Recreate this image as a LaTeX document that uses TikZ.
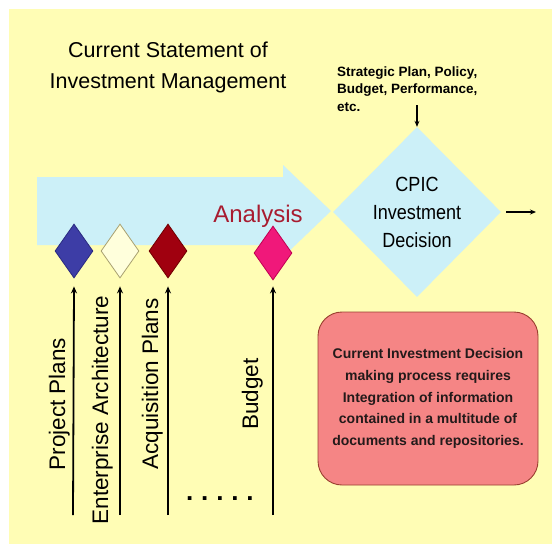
\documentclass[tikz,border=0pt]{standalone}
\usepackage{fontspec}
\setmainfont{Liberation Sans}
\newfontfamily\narrowsf[FakeStretch=0.88]{Liberation Sans}
\usetikzlibrary{shapes.geometric,arrows.meta}

\definecolor{paper}{HTML}{FFFDB5}
\definecolor{flowblue}{HTML}{CCF0F8}
\definecolor{plandia}{HTML}{3D3DA6}
\definecolor{plandiaedge}{HTML}{2A2A80}
\definecolor{archdia}{HTML}{FFFFDC}
\definecolor{archdiaedge}{HTML}{A8A070}
\definecolor{acqdia}{HTML}{A0000F}
\definecolor{acqdiaedge}{HTML}{700000}
\definecolor{budgetdia}{HTML}{F0187A}
\definecolor{budgetdiaedge}{HTML}{C00050}
\definecolor{analysisred}{HTML}{A81C30}
\definecolor{notefill}{HTML}{F58585}
\definecolor{noteedge}{HTML}{9A4030}
\definecolor{notetext}{HTML}{231A1A}

\begin{document}
\begin{tikzpicture}[x=1pt,y=-1pt,
  inputdia/.style={diamond,draw,line width=0.8pt,inner sep=0pt,
    minimum width=38pt,minimum height=54pt},
  inputlabel/.style={rotate=90,anchor=base,inner sep=0pt,
    font=\fontsize{22.5}{26}\selectfont},
  feed/.style={line width=1.8pt,-{Stealth[length=7pt,width=6pt]}},
  thinarrow/.style={line width=1.4pt,-{Stealth[length=6pt,width=5pt]}}]

% page and backdrop
\useasboundingbox (0,0) rectangle (552,544);
\fill[white] (0,0) rectangle (552,544);
\fill[paper] (9,9) rectangle (552,544);

% heading
\node[align=center,font=\fontsize{21.5}{31}\selectfont] (title) at (168,67)
  {Current Statement of\\Investment Management};

% broad analysis arrow
\fill[flowblue] (37,177) -- (283,177) -- (283,165) -- (331,211)
  -- (283,257) -- (283,245) -- (37,245) -- cycle;

\node[anchor=base,text=analysisred,inner sep=0pt,
  font=\fontsize{24}{28}\selectfont] (analysis) at (258,222) {Analysis};

% input diamonds
\node[inputdia,fill=plandia,draw=plandiaedge] (dplan) at (74,251) {};
\node[inputdia,fill=archdia,draw=archdiaedge] (darch) at (120,251) {};
\node[inputdia,fill=acqdia,draw=acqdiaedge] (dacq) at (168,251) {};
\node[inputdia,fill=budgetdia,draw=budgetdiaedge] (dbudget) at (273,253) {};

% input feeds from below
\coordinate (fplan) at (73,515);
\coordinate (farch) at (120,515);
\coordinate (facq) at (168,515);
\coordinate (fbudget) at (273,515);
\draw[feed] (fplan) -- ([yshift=-8pt]dplan.south);
\draw[feed] (farch) -- ([yshift=-8pt]darch.south);
\draw[feed] (facq) -- ([yshift=-8pt]dacq.south);
\draw[feed] (fbudget) -- ([yshift=-6pt]dbudget.south);

\node[inputlabel] (lplan) at (65,404) {Project Plans};
\node[inputlabel] (larch) at (108,410) {Enterprise Architecture};
\node[inputlabel] (lacq) at (158,384) {Acquisition Plans};
\node[inputlabel] (lbudget) at (258,394) {Budget};

\node[anchor=base west,inner sep=0pt,font=\bfseries\fontsize{26}{30}\selectfont]
  (more) at (186,500) {.\kern7.8pt.\kern7.8pt.\kern7.8pt.\kern7.8pt.};

% decision diamond
\node[diamond,fill=flowblue,inner sep=0pt,minimum width=168pt,
  minimum height=170pt,align=center,
  font=\narrowsf\fontsize{20.5}{28}\selectfont] (cpic) at (417,212)
  {CPIC\\Investment\\Decision};

\node[align=left,inner sep=0pt,
  font=\bfseries\fontsize{13.5}{17.5}\selectfont,anchor=west] (strategy) at (337,89)
  {Strategic Plan, Policy,\\Budget, Performance,\\etc.};
\coordinate (stratdrop) at (417,105);
\draw[thinarrow] (stratdrop) -- (cpic.north);

\coordinate (decisionout) at (536,212);
\draw[thinarrow] ([xshift=5pt]cpic.east) -- (decisionout);

% remark box
\node[draw=noteedge,fill=notefill,line width=0.9pt,rounded corners=24pt,
  minimum width=220pt,minimum height=173pt,align=center,text=notetext,
  font=\bfseries\fontsize{14}{21.7}\selectfont] (note) at (428,398.5)
  {Current Investment Decision\\making process requires\\Integration of information\\contained in a multitude of\\documents and repositories.};

\end{tikzpicture}
\end{document}
